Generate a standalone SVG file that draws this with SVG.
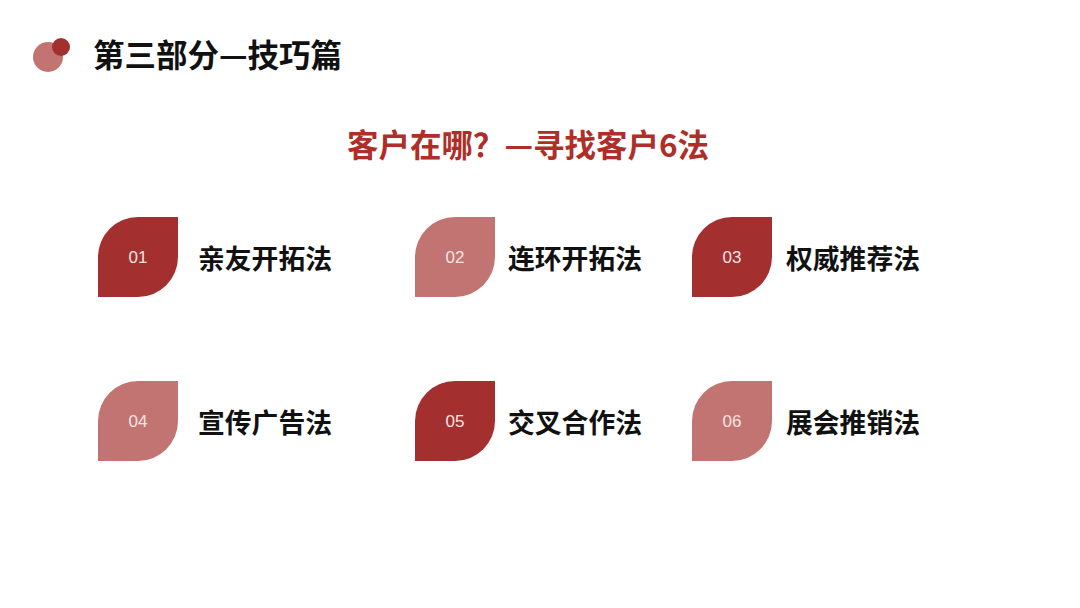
<svg xmlns="http://www.w3.org/2000/svg" width="1080" height="608" viewBox="0 0 1080 608">
<defs>
<style>
.leaf-d{fill:#A3302F}
.leaf-l{fill:#C27473}
.num{font-family:"Liberation Sans","Noto Sans",sans-serif;font-size:17px;fill:#F6E4E0;text-anchor:middle}
.lbl{font-family:"Noto Sans CJK SC",sans-serif;font-weight:bold;font-size:26.8px;fill:#111}
</style>
<path id="leaf" d="M0,40 A40,40 0 0 1 40,0 L80,0 L80,40 A40,40 0 0 1 40,80 L0,80 Z"/>
</defs>
<rect width="1080" height="608" fill="#fff"/>
<g id="header">
<circle cx="48" cy="57" r="15" fill="#C27473"/>
<circle cx="61" cy="47" r="9" fill="#A3302F"/>
<text x="93" y="67" font-family="Noto Sans CJK SC,sans-serif" font-weight="bold" font-size="31.5" fill="#111">第三部分—技巧篇</text>
</g>
<g id="subtitle">
<text x="528" y="157" text-anchor="middle" font-family="Noto Sans CJK SC,sans-serif" font-weight="bold" font-size="31.5" fill="#B02E28">客户在哪？—寻找客户6法</text>
</g>
<g id="n01"><use href="#leaf" x="98" y="217" class="leaf-d"/><text class="num" x="138" y="263">01</text><text class="lbl" x="198" y="269">亲友开拓法</text></g>
<g id="n02"><use href="#leaf" x="415" y="217" class="leaf-l"/><text class="num" x="455" y="263">02</text><text class="lbl" x="508" y="269">连环开拓法</text></g>
<g id="n03"><use href="#leaf" x="692" y="217" class="leaf-d"/><text class="num" x="732" y="263">03</text><text class="lbl" x="786" y="269">权威推荐法</text></g>
<g id="n04"><use href="#leaf" x="98" y="381" class="leaf-l"/><text class="num" x="138" y="427">04</text><text class="lbl" x="198" y="433">宣传广告法</text></g>
<g id="n05"><use href="#leaf" x="415" y="381" class="leaf-d"/><text class="num" x="455" y="427">05</text><text class="lbl" x="508" y="433">交叉合作法</text></g>
<g id="n06"><use href="#leaf" x="692" y="381" class="leaf-l"/><text class="num" x="732" y="427">06</text><text class="lbl" x="786" y="433">展会推销法</text></g>
<g id="connectors"/>
</svg>
